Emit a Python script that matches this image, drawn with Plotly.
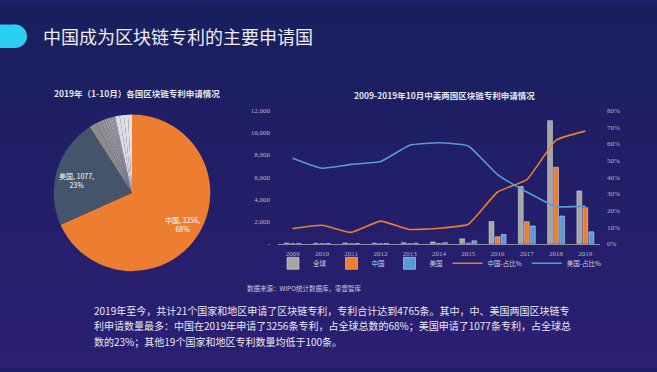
import math
import plotly.graph_objects as go

W, H = 657, 372

# ---------------- data ----------------
title_text = "中国成为区块链专利的主要申请国"
pie_title = "2019年（1-10月）各国区块链专利申请情况"
bar_title = "2009-2019年10月中美两国区块链专利申请情况"
source_text = "数据来源：WIPO统计数据库，零壹智库"
para_lines = [
    "2019年至今，共计21个国家和地区申请了区块链专利，专利合计达到4765条。其中，中、美国两国区块链专",
    "利申请数量最多：中国在2019年申请了3256条专利，占全球总数的68%；美国申请了1077条专利，占全球总",
    "数的23%；其他19个国家和地区专利数量均低于100条。",
]

pie_labels = ["中国", "美国"] + ["其他%d" % i for i in range(1, 20)]
pie_values = [3256, 1077, 75, 45, 35, 25, 20, 15, 12, 10, 8, 6, 5, 4, 3, 2, 1, 45, 42, 40, 39]

years = ["2009", "2010", "2011", "2012", "2013", "2014", "2015", "2016", "2017", "2018", "2019"]
global_vals = [60, 45, 70, 55, 90, 160, 440, 2000, 5150, 11100, 4765]
china_vals = [5, 5, 5, 8, 8, 15, 55, 620, 1990, 6900, 3256]
us_vals = [30, 20, 33, 27, 53, 97, 260, 830, 1600, 2500, 1077]
china_share = [0.091, 0.111, 0.068, 0.136, 0.086, 0.093, 0.117, 0.311, 0.385, 0.623, 0.677]
us_share = [0.514, 0.454, 0.477, 0.494, 0.592, 0.607, 0.588, 0.415, 0.311, 0.224, 0.226]

left_ticks = [0, 2000, 4000, 6000, 8000, 10000, 12000]
left_ticktext = ["-", "2,000", "4,000", "6,000", "8,000", "10,000", "12,000"]
right_ticks = [0, 0.1, 0.2, 0.3, 0.4, 0.5, 0.6, 0.7, 0.8]
right_ticktext = ["0%", "10%", "20%", "30%", "40%", "50%", "60%", "70%", "80%"]

# ---------------- helpers ----------------
def px(x):
    return x / W

def py(y):
    return 1 - y / H

CJK = "Noto Sans CJK SC"
ORANGE = "#ed7d31"
BLUE = "#5b9bd5"
GRAY = "#a5a5a5"
SLATE = "#44546a"

# pie geometry (pixels)
PIE_CX, PIE_CY, PIE_R = 132, 193, 80

fig = go.Figure()

# ---------------- pie ----------------
total = sum(pie_values)
n_other = len(pie_values) - 2
other_colors = []
for i in range(n_other):
    if i < 15:
        g = int(0x8c + (0xcc - 0x8c) * i / 14)
    else:
        g = 0xdc + (i - 15) * 2
    other_colors.append("#%02x%02x%02x" % (g, g, g))
pie_colors = [ORANGE, SLATE] + other_colors

fig.add_trace(go.Pie(
    labels=pie_labels, values=pie_values, textinfo="none",
    marker=dict(colors=pie_colors, line=dict(width=0)),
    sort=False, direction="clockwise", rotation=0,
    showlegend=False, hoverinfo="label+value+percent",
    domain=dict(x=[px(PIE_CX - PIE_R), px(PIE_CX + PIE_R)],
                y=[py(PIE_CY + PIE_R), py(PIE_CY - PIE_R)]),
))

# slice labels for the two main slices, placed along each slice's mid-angle
pie_label_anns = []
cum = 0.0
for lab, v in zip(pie_labels, pie_values):
    frac = v / total
    if lab in ("中国", "美国"):
        theta = 2 * math.pi * (cum + frac / 2)
        k = 0.75 if lab == "中国" else 0.72
        lx = PIE_CX + PIE_R * k * math.sin(theta)
        ly = PIE_CY - PIE_R * k * math.cos(theta) + (0 if lab == "中国" else 4)
        pie_label_anns.append(dict(
            text="%s, %d,<br>%d%%" % (lab, v, round(frac * 100)),
            x=px(lx), y=py(ly), xref="paper", yref="paper",
            xanchor="center", yanchor="middle", align="center", showarrow=False,
            font=dict(family=CJK, size=7, color="white")))
    cum += frac

# ---------------- bars + lines ----------------
fig.add_trace(go.Bar(x=years, y=global_vals, name="全球", marker_color=GRAY,
                     xaxis="x", yaxis="y"))
fig.add_trace(go.Bar(x=years, y=china_vals, name="中国", marker_color=ORANGE,
                     xaxis="x", yaxis="y"))
fig.add_trace(go.Bar(x=years, y=us_vals, name="美国", marker_color=BLUE,
                     xaxis="x", yaxis="y"))
fig.add_trace(go.Scatter(x=years, y=china_share, name="中国-占比%", mode="lines",
                         line=dict(color=ORANGE, width=1.6, shape="spline", smoothing=0.4),
                         xaxis="x", yaxis="y2"))
fig.add_trace(go.Scatter(x=years, y=us_share, name="美国-占比%", mode="lines",
                         line=dict(color=BLUE, width=1.6, shape="spline", smoothing=0.4),
                         xaxis="x", yaxis="y2"))

tickfont = dict(family="Liberation Serif", size=7, color="#b4b6cc")

# ---------------- background gradient ----------------
shapes = []
top = (0x19, 0x1f, 0x5e)
bot = (0x2c, 0x20, 0x74)
nb = 40
for i in range(nb):
    t = i / (nb - 1)
    c = tuple(int(top[k] + (bot[k] - top[k]) * t) for k in range(3))
    shapes.append(dict(type="rect", xref="paper", yref="paper", layer="below",
                       x0=0, x1=1, y0=1 - (i + 1) / nb, y1=1 - i / nb,
                       fillcolor="#%02x%02x%02x" % c, line=dict(width=0)))
# cyan pill
shapes.append(dict(type="rect", xref="paper", yref="paper", layer="below",
                   x0=0, x1=px(15), y0=py(45), y1=py(21),
                   fillcolor="#2bcff0", line=dict(width=0)))
shapes.append(dict(type="circle", xref="paper", yref="paper", layer="below",
                   x0=px(3), x1=px(27), y0=py(45), y1=py(21),
                   fillcolor="#2bcff0", line=dict(width=0)))

annotations = [
    dict(text=title_text, x=px(41), y=py(33), xref="paper", yref="paper",
         xanchor="left", yanchor="middle", showarrow=False,
         font=dict(family=CJK, size=18, color="#ececf4")),
    dict(text="<b>%s</b>" % pie_title, x=px(137), y=py(91), xref="paper", yref="paper",
         xanchor="center", yanchor="middle", showarrow=False,
         font=dict(family=CJK, size=8.5, color="#e4e4ee")),
    dict(text="<b>%s</b>" % bar_title, x=px(444), y=py(93), xref="paper", yref="paper",
         xanchor="center", yanchor="middle", showarrow=False,
         font=dict(family=CJK, size=8.5, color="#e4e4ee")),
    dict(text=source_text, x=px(245), y=py(290), xref="paper", yref="paper",
         xanchor="left", yanchor="middle", showarrow=False,
         font=dict(family=CJK, size=6.5, color="#c8c8d8")),
] + pie_label_anns
for i, line in enumerate(para_lines):
    annotations.append(dict(text=line, x=px(92), y=py(313 + 16 * i), xref="paper", yref="paper",
                            xanchor="left", yanchor="middle", showarrow=False,
                            font=dict(family=CJK, size=10, color="#e8e8f0")))

fig.update_layout(
    width=W, height=H, autosize=False,
    margin=dict(l=0, r=0, t=0, b=0),
    paper_bgcolor="#1e1f66", plot_bgcolor="rgba(0,0,0,0)",
    barmode="group", bargap=0.38, bargroupgap=0.2,
    shapes=shapes, annotations=annotations,
    xaxis=dict(domain=[px(278), px(600)], type="category", showline=True,
               linecolor="#8a8ca8", linewidth=1, ticks="", showgrid=False,
               tickfont=tickfont, ticklabelstandoff=3, anchor="y"),
    yaxis=dict(domain=[py(245), py(109)], range=[0, 12000], tickvals=left_ticks,
               ticktext=left_ticktext, showgrid=False, zeroline=False, showline=False,
               tickfont=tickfont, ticklabelstandoff=7, anchor="x"),
    yaxis2=dict(overlaying="y", side="right", range=[0, 0.8], tickvals=right_ticks,
                ticktext=right_ticktext, showgrid=False, zeroline=False, showline=False,
                tickfont=tickfont, ticklabelstandoff=6, anchor="x"),
    legend=dict(orientation="h", x=px(440), y=py(265), xanchor="center", yanchor="middle",
                font=dict(family=CJK, size=6.5, color="#d0d0dc"), bgcolor="rgba(0,0,0,0)",
                itemwidth=30, tracegroupgap=0),
    font=dict(family=CJK),
)

fig.write_html("out.html", config={"displayModeBar": False},
               post_script="document.body.style.margin='0';document.body.style.overflow='hidden';")
